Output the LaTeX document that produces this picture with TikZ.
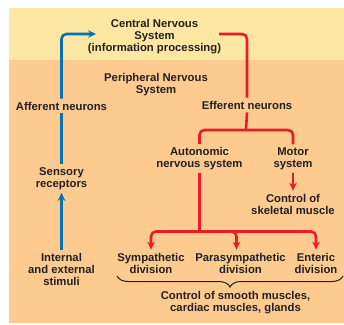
\documentclass[tikz,border=0pt]{standalone}
\usepackage{fontspec}
\setmainfont{Liberation Sans}
\usetikzlibrary{arrows.meta,decorations.pathreplacing}
\definecolor{bgyellow}{RGB}{254,231,163}
\definecolor{bgorange}{RGB}{253,203,144}
\definecolor{txt}{RGB}{35,31,32}
\definecolor{nblue}{RGB}{0,114,188}
\definecolor{nred}{RGB}{237,28,36}
\begin{document}
\begin{tikzpicture}[x=1pt,y=-1pt,
  lbl/.style={font=\fontsize{11.3}{12}\selectfont\bfseries, text=txt, align=center, inner sep=3pt},
  bluel/.style={draw=nblue, line width=2.6pt, rounded corners=5pt},
  redl/.style={draw=nred, line width=2.6pt, rounded corners=5pt},
  tip/.style={-{Stealth[length=8pt,width=7.5pt]}}]
\useasboundingbox (0,0) rectangle (344,324);
\fill[bgyellow] (9,8) rectangle (344,60);
\fill[bgorange] (9,60) rectangle (344,323);

\node[lbl] (cns) at (154.5,36.8) {Central Nervous\\System\\(information processing)};
\node[lbl] (pns) at (156,84.7) {Peripheral Nervous\\System};
\node[lbl] (aff) at (61.5,106) {Afferent neurons};
\node[lbl] (eff) at (247,105) {Efferent neurons};
\node[lbl] (sens) at (61.5,178.5) {Sensory\\receptors};
\node[lbl] (stim) at (61.5,269) {Internal\\and external\\stimuli};
\node[lbl] (auto) at (199.5,158.7) {Autonomic\\nervous system};
\node[lbl] (motor) at (293,158.7) {Motor\\system};
\node[lbl] (skel) at (293,204) {Control of\\skeletal muscle};
\node[lbl] (symp) at (151,263) {Sympathetic\\division};
\node[lbl] (para) at (240.5,263) {Parasympathetic\\division};
\node[lbl] (ent) at (316,263) {Enteric\\division};
\node[lbl] (ctrl) at (235.5,303) {Control of smooth muscles,\\cardiac muscles, glands};

\coordinate (cnsin) at (96,34);
\coordinate (cnsout) at (219,34);
\coordinate (b1) at (246,130);
\coordinate (b2) at (199.5,231.5);
\coordinate (brL) at (117,276);
\coordinate (brR) at (343,276);

% afferent (blue)
\draw[bluel,tip] (aff.north) |- (cnsin);
\draw[bluel] (aff.south) -- (sens.north);
\draw[bluel,tip] (stim.north) -- (sens.south);

% efferent (red)
\draw[redl] (cnsout) -| (eff.north);
\draw[redl] (eff.south) -- (b1);
\draw[redl] (b1) -| (auto.north);
\draw[redl] (b1) -| (motor.north);
\draw[redl,tip] (motor.south) -- (skel.north);
\draw[redl] (auto.south) -- (b2);
\draw[redl,tip] (b2) -| (symp.north);
\draw[redl,tip] (b2) -| ([xshift=-4pt]para.north);
\draw[redl,tip] (b2) -| (ent.north);

% brace
\draw[txt, line width=1pt, decorate, decoration={brace, mirror, amplitude=11pt}] (brL) -- (brR);
\end{tikzpicture}
\end{document}
